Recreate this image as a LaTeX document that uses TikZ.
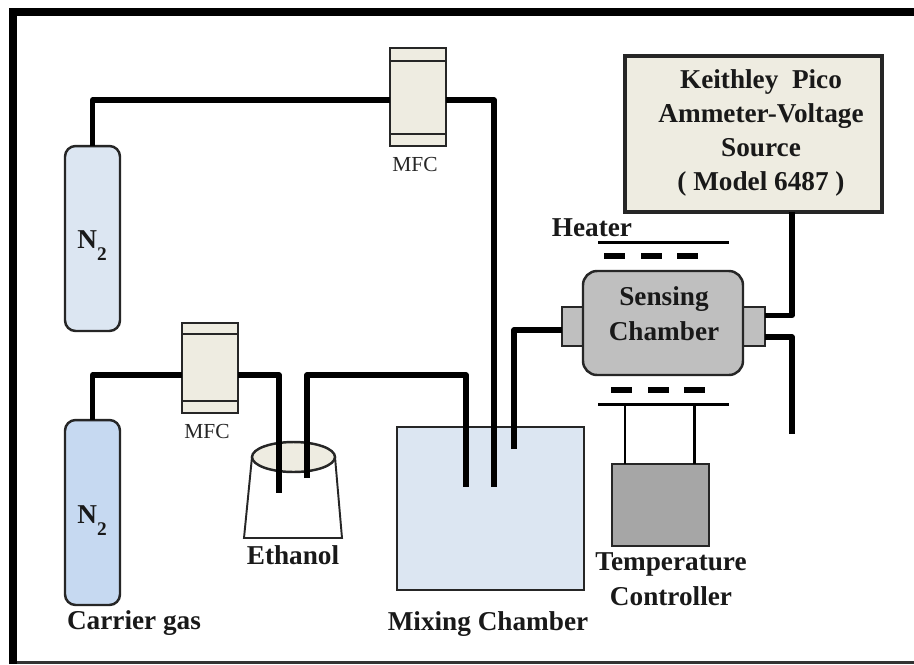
\documentclass[tikz,border=0pt]{standalone}
\usepackage{fontspec}
\usetikzlibrary{shapes.geometric}
\setmainfont{Liberation Serif}
\definecolor{paleblue}{HTML}{DCE6F2}
\definecolor{midblue}{HTML}{C6D9F1}
\definecolor{cream}{HTML}{EEECE1}
\definecolor{chambergrey}{HTML}{BFBFBF}
\definecolor{ctrlgrey}{HTML}{A6A6A6}
\tikzset{
  box/.style={draw=black!85, line width=1.4pt, inner sep=0pt, outer sep=0pt},
  cylinder box/.style={box, rounded corners=6pt, minimum width=1.1cm, minimum height=3.7cm},
  mfc/.style={box, fill=cream, minimum width=1.12cm},
  pipe/.style={line width=2.9pt, line join=round},
  wire/.style={line width=1.7pt},
  lbl/.style={font=\bfseries\fontsize{15.5}{19}\selectfont, text=black!90, align=center, inner sep=0pt},
  small lbl/.style={font=\fontsize{12.2}{13}\selectfont, text=black!85, inner sep=0pt}
}
\newcommand{\gaslabel}{N\raisebox{-0.45em}{\fontsize{11}{11}\selectfont 2}}
\begin{document}
\begin{tikzpicture}[x=0.02cm,y=-0.02cm]
\useasboundingbox (0,0) rectangle (914,664);
\fill[white] (0,0) rectangle (914,664);
% frame
\draw[black, line width=4.5pt] (13,664) -- (13,12) -- (914,12);
\draw[black!80, line width=1.7pt] (17,662.5) -- (914,662.5);
% gas lines
\node[cylinder box, fill=paleblue] (n2top) at (92.5,238.5) {};
\node[cylinder box, fill=midblue] (n2bot) at (92.5,512.5) {};
\node[lbl, anchor=base] (n2toplbl) at (92,248) {\gaslabel};
\node[lbl, anchor=base] (n2botlbl) at (92,523) {\gaslabel};
\node[lbl] (carrier) at (134,623) {Carrier gas};
\node[mfc, minimum height=1.96cm] (mfctop) at (418,97) {};
\node[mfc, minimum height=1.8cm] (mfcbot) at (210,368) {};
\draw[box] (390,61) -- (446,61);
\draw[box] (390,134) -- (446,134);
\draw[box] (182,334) -- (238,334);
\draw[box] (182,401) -- (238,401);
\node[small lbl] (mfctoplbl) at (415,164) {MFC};
\node[small lbl] (mfcbotlbl) at (207,431) {MFC};
% ethanol bubbler
\draw[box, fill=white, line width=1.1pt] (252,457) -- (244,538) -- (342,538) -- (335,457);
\node[box, ellipse, fill=cream, minimum width=1.66cm, minimum height=0.6cm] (ethanol) at (293.5,457) {};
\node[lbl] (ethanollbl) at (293,555) {Ethanol};
% mixing chamber
\node[box, fill=paleblue, minimum width=3.74cm, minimum height=3.26cm] (mixing) at (490.5,508.5) {};
\node[lbl] (mixinglbl) at (488,624) {Mixing Chamber};
% sensing chamber
\node[box, fill=chambergrey, minimum width=0.42cm, minimum height=0.78cm] (portl) at (572.5,326.5) {};
\node[box, fill=chambergrey, minimum width=0.44cm, minimum height=0.78cm] (portr) at (754,326.5) {};
\node[box, fill=chambergrey, rounded corners=8pt, minimum width=3.2cm, minimum height=2.08cm] (sensing) at (663,323) {};
\node[lbl] (sensinglbl) at (664,313.5) {Sensing\\[0.8pt]Chamber};
% heater
\node[lbl] (heaterlbl) at (592,228) {Heater};
\coordinate (heatal) at (598,242);
\coordinate (heatar) at (729,242);
\coordinate (heatbl) at (598,404);
\coordinate (heatbr) at (729,404);
\draw[wire] (heatal) -- (heatar);
\draw[wire] (heatbl) -- (heatbr);
\draw[pipe, line width=3.4pt] (604,256) -- (625,256);
\draw[pipe, line width=3.4pt] (641,256) -- (662,256);
\draw[pipe, line width=3.4pt] (677,256) -- (698,256);
\draw[pipe, line width=3.4pt] (611,390) -- (632,390);
\draw[pipe, line width=3.4pt] (648,390) -- (669,390);
\draw[pipe, line width=3.4pt] (684,390) -- (705,390);
% temperature controller
\node[box, fill=ctrlgrey, minimum width=1.94cm, minimum height=1.64cm] (ctrl) at (660.5,505) {};
\node[lbl] (ctrllbl) at (671,579.5) {Temperature\\[0.8pt]Controller};
\draw[wire] (625,404) -- (ctrl.north -| 625,0);
\draw[wire] (694.5,404) -- (ctrl.north -| 694.5,0);
% Keithley
\node[box, fill=cream, line width=1.8pt, minimum width=5.14cm, minimum height=3.12cm] (keithley) at (753.5,134) {};
\node[lbl] (keithleylbl) at (761,133) {Keithley\ \ Pico\\[0.4pt]Ammeter-Voltage\\[0.4pt]Source\\[0.4pt]( Model 6487 )};
% pipes
\coordinate (a1) at (390,100);
\coordinate (a2) at (446,100);
\coordinate (a3) at (494,487);
\coordinate (b1) at (182,375);
\coordinate (b2) at (238,375);
\coordinate (b3) at (279,493);
\coordinate (c1) at (307,478);
\coordinate (c2) at (466,487);
\coordinate (d1) at (514,449);
\coordinate (d2) at (562,330);
\coordinate (e1) at (765,315.5);
\coordinate (e2) at (765,337);
\coordinate (e3) at (792,434);
\draw[pipe] (n2top.north) |- (a1);
\draw[pipe] (a2) -| (a3);
\draw[pipe] (n2bot.north) |- (b1);
\draw[pipe] (b2) -| (b3);
\draw[pipe] (c1) |- (466,375) -- (c2);
\draw[pipe] (d1) |- (d2);
\draw[pipe] (keithley.south -| 792,0) |- (e1);
\draw[pipe] (e2) -| (e3);
\end{tikzpicture}
\end{document}
